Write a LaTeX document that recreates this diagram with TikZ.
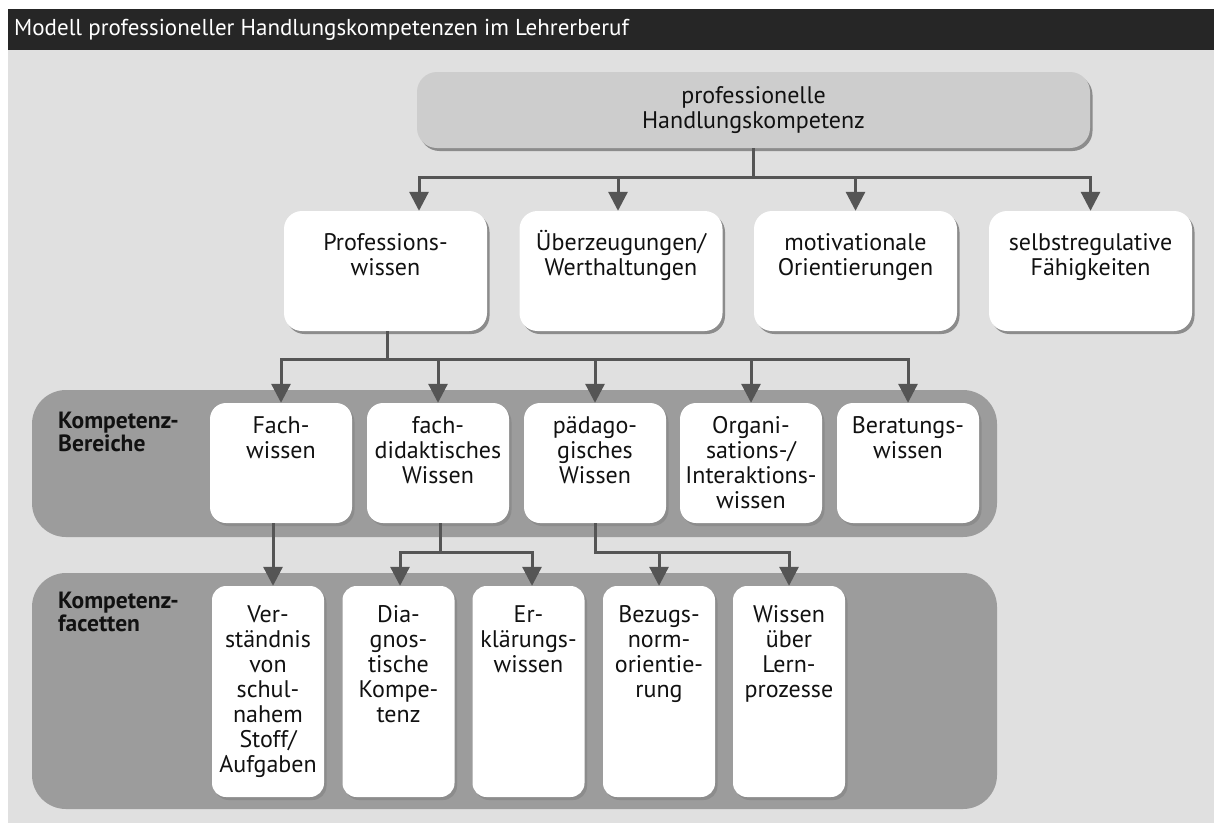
\documentclass[tikz,border=0pt]{standalone}
\usepackage{fontspec}
\setmainfont{PT Sans}
\usetikzlibrary{arrows.meta,shadows,calc}
\definecolor{bgc}{HTML}{E0E0E0}
\definecolor{barc}{HTML}{262626}
\definecolor{topc}{HTML}{CDCDCD}
\definecolor{bandc}{HTML}{9C9C9C}
\definecolor{linec}{HTML}{555555}
\definecolor{shc}{HTML}{8C8C8C}
\definecolor{txtc}{HTML}{111111}
\newcommand\fl{\rule{0pt}{22pt}}
\tikzset{
  shd/.style={drop shadow={shadow xshift=2.5pt, shadow yshift=-3pt, fill=shc, opacity=1}},
  topbox/.style={fill=topc, rounded corners=20pt, shd, minimum width=673pt, minimum height=76pt, inner sep=0pt},
  bigbox/.style={fill=white, rounded corners=18pt, shd, minimum width=203pt, minimum height=120pt, inner sep=0pt},
  midbox/.style={fill=white, rounded corners=16pt, shd, minimum width=142pt, minimum height=120pt, inner sep=0pt},
  facbox/.style={fill=white, rounded corners=14pt, shd, minimum width=112pt, minimum height=211pt, inner sep=0pt},
  band/.style={fill=bandc, rounded corners=34pt, inner sep=0pt, minimum width=965pt},
  btxt/.style={anchor=north, inner sep=0pt, align=center, text=txtc, font=\fontsize{24}{25}\selectfont},
  lbl/.style={anchor=north west, inner sep=0pt, align=left, text=txtc, font=\fontsize{23.5}{23}\selectfont\bfseries},
  ln/.style={draw=linec, line width=3pt},
  ar/.style={ln, -{Triangle[length=19pt,width=19pt]}}
}
\begin{document}
\begin{tikzpicture}[x=1pt,y=-1pt]
\useasboundingbox (0,0) rectangle (1214,823);
\fill[white] (0,0) rectangle (1214,823);
\fill[bgc] (8,50) rectangle (1214,823);
\fill[barc] (8,9) rectangle (1214,50);
\node[anchor=west, inner sep=0pt, text=white, font=\fontsize{23}{25}\selectfont] (title) at (14,30) {Modell professioneller Handlungskompetenzen im Lehrerberuf};

% bands
\node[band, minimum height=147pt] (band1) at (514.5,463.5) {};
\node[band, minimum height=236pt] (band2) at (514.5,691) {};
\node[lbl] (l1) at (58,412) {Kompetenz-\\Bereiche};
\node[lbl] (l2) at (58,592) {Kompetenz-\\facetten};

% top
\node[topbox] (top) at (753.5,110) {};
\node[btxt, anchor=center] (topt) at (top.center) {professionelle\\Handlungskompetenz};

% row 2
\node[bigbox] (pw) at (385.5,271) {};
\node[bigbox] (ub) at (621,271) {};
\node[bigbox] (mo) at (855.5,271) {};
\node[bigbox] (se) at (1090.5,271) {};
\node[btxt] (pwt) at ([yshift=-17pt]pw.north) {\fl Professions-\\wissen};
\node[btxt] (ubt) at ([yshift=-17pt]ub.north) {\fl Überzeugungen/\\Werthaltungen};
\node[btxt] (mot) at ([yshift=-17pt]mo.north) {\fl motivationale\\Orientierungen};
\node[btxt] (set) at ([yshift=-17pt]se.north) {\fl selbstregulative\\Fähigkeiten};

% row 3
\node[midbox] (fw) at (281,463) {};
\node[midbox] (fd) at (438,463) {};
\node[midbox] (pd) at (595,463) {};
\node[midbox] (oi) at (751,463) {};
\node[midbox] (bw) at (908,463) {};
\node[btxt] (fwt) at ([yshift=-8pt]fw.north) {\fl Fach-\\wissen};
\node[btxt] (fdt) at ([yshift=-8pt]fd.north) {\fl fach-\\didaktisches\\Wissen};
\node[btxt] (pdt) at ([yshift=-8pt]pd.north) {\fl pädago-\\gisches\\Wissen};
\node[btxt] (oit) at ([yshift=-8pt]oi.north) {\fl Organi-\\sations-/\\Interaktions-\\wissen};
\node[btxt] (bwt) at ([yshift=-8pt]bw.north) {\fl Beratungs-\\wissen};

% facets
\node[facbox] (vs) at (268,691.5) {};
\node[facbox] (dg) at (398.5,691.5) {};
\node[facbox] (ek) at (528.5,691.5) {};
\node[facbox] (bz) at (659,691.5) {};
\node[facbox] (wl) at (789,691.5) {};
\node[btxt] (vst) at ([yshift=-14pt]vs.north) {\fl Ver-\\ständnis\\von\\schul-\\nahem\\Stoff/\\Aufgaben};
\node[btxt] (dgt) at ([yshift=-14pt]dg.north) {\fl Dia-\\gnos-\\tische\\Kompe-\\tenz};
\node[btxt] (ekt) at ([yshift=-14pt]ek.north) {\fl Er-\\klärungs-\\wissen};
\node[btxt] (bzt) at ([yshift=-14pt]bz.north) {\fl Bezugs-\\norm-\\orientie-\\rung};
\node[btxt] (wlt) at ([yshift=-14pt]wl.north) {\fl Wissen\\über\\Lern-\\prozesse};

% connectors top -> row 2
\draw[ar] (top.south) -- ++(0,29) -| ([xshift=33.5pt]pw.north);
\draw[ar] (top.south) -- ++(0,29) -| ([xshift=-3pt]ub.north);
\draw[ar] (top.south) -- ++(0,29) -| (mo.north);
\draw[ar] (top.south) -- ++(0,29) -| (se.north);

% row 2 -> row 3
\draw[ar] ([xshift=1.5pt]pw.south) -- ++(0,28) -| (fw.north);
\draw[ar] ([xshift=1.5pt]pw.south) -- ++(0,28) -| (fd.north);
\draw[ar] ([xshift=1.5pt]pw.south) -- ++(0,28) -| (pd.north);
\draw[ar] ([xshift=1.5pt]pw.south) -- ++(0,28) -| (oi.north);
\draw[ar] ([xshift=1.5pt]pw.south) -- ++(0,28) -| (bw.north);

% row 3 -> facets
\draw[ar] ([xshift=-8pt]fw.south) -- ([xshift=5pt]vs.north);
\draw[ar] ([xshift=2pt]fd.south) -- ++(0,29) -| ([xshift=1.5pt]dg.north);
\draw[ar] ([xshift=2pt]fd.south) -- ++(0,29) -| ([xshift=3.5pt]ek.north);
\draw[ar] (pd.south) -- ++(0,29) -| (bz.north);
\draw[ar] (pd.south) -- ++(0,29) -| (wl.north);
\end{tikzpicture}
\end{document}
